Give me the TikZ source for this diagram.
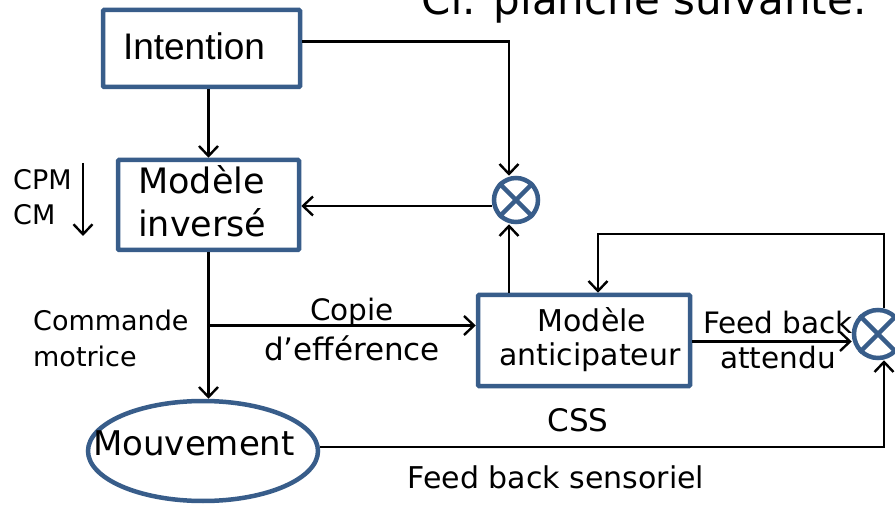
\documentclass[tikz,border=0pt]{standalone}
\usepackage{fontspec}
\setmainfont{DejaVu Sans}
\newfontfamily\arialf{Liberation Sans}
\usetikzlibrary{arrows.meta,shapes.geometric,calc}
\definecolor{bord}{RGB}{56,93,138}
\tikzset{
  boxst/.style={draw=bord,line width=4.5pt,fill=white,rounded corners=1pt,inner sep=0pt},
  sumst/.style={circle,draw=bord,line width=4.5pt,fill=white,inner sep=0pt,minimum size=44pt},
  arr/.style={line width=2.4pt,-{Straight Barb[length=10pt,width=19pt,line width=2.4pt]}},
  lab/.style={font=\fontsize{29.5}{33}\selectfont,inner sep=0pt},
}
\begin{document}
\begin{tikzpicture}[x=1pt,y=-1pt]
\useasboundingbox (0,0) rectangle (895,505);
\fill[white] (0,0) rectangle (895,505);
\begin{scope}
\clip (0,0) rectangle (895,505);
\node[anchor=base,inner sep=0pt,font=\fontsize{42}{46}\selectfont] (cf) at (644,15) {Cf. planche suivante.};
% boxes
\node[boxst,minimum width=197pt,minimum height=77pt] (intention) at (201.5,48.5) {};
\node[font=\arialf\fontsize{37}{40}\selectfont,inner sep=0pt] (intt) at (194,46) {Intention};
\node[boxst,minimum width=181pt,minimum height=90pt] (inv) at (208.5,205) {};
\node[anchor=west,font=\fontsize{35}{38}\selectfont,inner sep=0pt] (invt1) at (138,180) {Modèle};
\node[anchor=west,font=\fontsize{35}{38}\selectfont,inner sep=0pt] (invt2) at (138,223) {inversé};
\node[boxst,minimum width=212pt,minimum height=91pt] (ant) at (584,340.5) {};
\node[lab,font=\fontsize{30}{33}\selectfont] (antt1) at (592,320) {Modèle};
\node[lab,font=\fontsize{30}{33}\selectfont] (antt2) at (590,357) {anticipateur};
\node[ellipse,draw=bord,line width=4.5pt,fill=white,minimum width=230pt,minimum height=100pt,inner sep=0pt] (mouv) at (203,451) {};
\node[font=\fontsize{34}{36}\selectfont,inner sep=0pt] (mouvt) at (194,443) {Mouvement};
% sum circles
\node[sumst] (c1) at (516,200) {};
\draw[bord,line width=4.5pt] (c1.north west) -- (c1.south east) (c1.north east) -- (c1.south west);
\node[sumst,minimum size=48pt] (c2) at (878,334) {};
\draw[bord,line width=4.5pt] (c2.north west) -- (c2.south east) (c2.north east) -- (c2.south west);
% connectors
\draw[arr] (inv.north |- intention.south) -- (inv.north);
\draw[arr] ([yshift=7pt]intention.east) -| ([xshift=-7pt]c1.north);
\draw[arr] ([yshift=-6pt]c1.west) -- ([yshift=-6pt]c1.west -| inv.east);
\draw[arr] (inv.south) -- (inv.south |- mouv.north);
\coordinate (br) at ([yshift=15pt]ant.west);
\draw[arr] (br -| inv.south) -- (br);
\draw[arr] ([xshift=-75pt]ant.north) -- ([xshift=-7pt]c1.south);
\draw[arr] ([yshift=-1pt]ant.east) -- ([yshift=-1pt]ant.east -| c2.west);
\draw[arr] ([xshift=6pt]c2.north) |- ([xshift=14pt,yshift=59pt]ant.north) -- ([xshift=14pt]ant.north);
\draw[arr] ([yshift=4pt]mouv.east) -| ([xshift=6pt]c2.south);
% CPM / CM
\node[lab,anchor=west,font=\fontsize{27}{30}\selectfont] (cpm) at (13,180) {CPM};
\node[lab,anchor=west,font=\fontsize{27}{30}\selectfont] (cm) at (13,215) {CM};
\coordinate (cpmA) at (83,163);
\coordinate (cpmB) at (83,236);
\draw[arr] (cpmA) -- (cpmB);
% labels
\node[lab,anchor=west,align=left,font=\fontsize{27}{36}\selectfont] (cmd) at (33,338) {Commande\\motrice};
\node[lab] (cop1) at (352,312) {Copie};
\node[lab,font=\fontsize{31}{33}\selectfont] (cop2) at (352,348) {d’efférence};
\node[lab] (fb1) at (778,323) {Feed back};
\node[lab] (fb2) at (778,358) {attendu};
\node[lab,font=\fontsize{31}{33}\selectfont] (css) at (578,420) {CSS};
\node[lab,font=\fontsize{30}{33}\selectfont] (fbs) at (556,477) {Feed back sensoriel};
\end{scope}
\end{tikzpicture}
\end{document}
